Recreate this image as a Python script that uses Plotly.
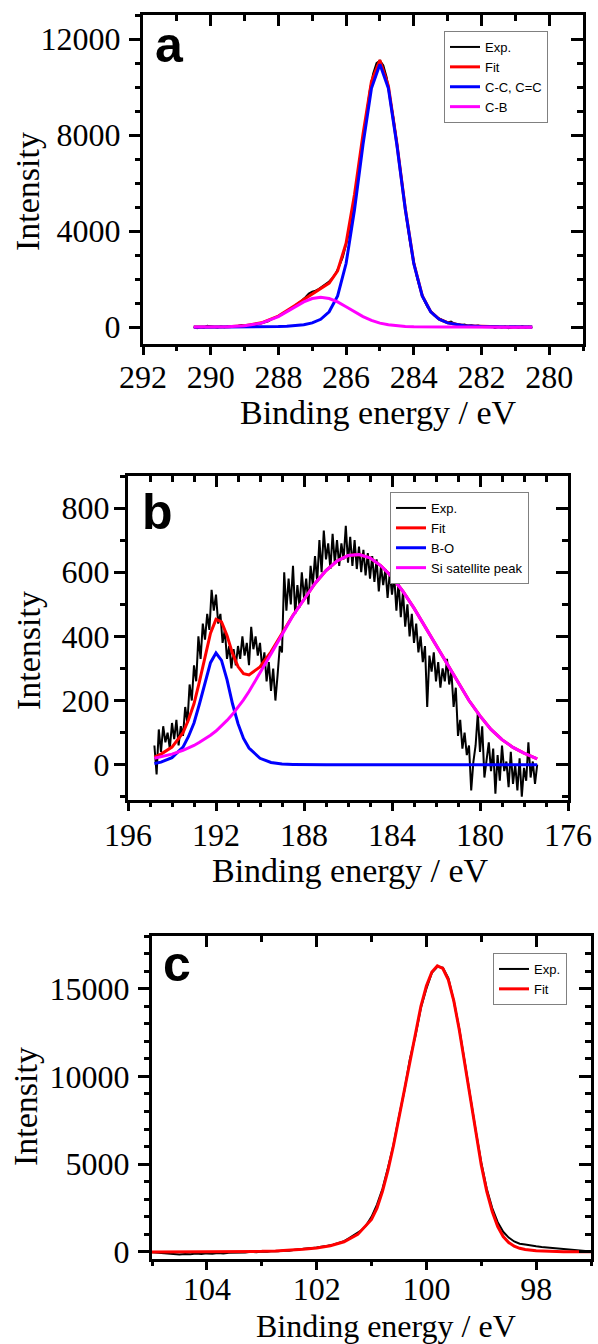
import numpy as np
import plotly.graph_objects as go

# ---------------- panel a : C 1s ----------------
a_fit_energy = [290.5, 290.0, 289.5, 289.0, 288.5, 288.0, 287.75, 287.5, 287.25, 287.0,
                286.75, 286.5, 286.25, 286.0, 285.75, 285.5, 285.25, 285.0, 284.75, 284.5,
                284.25, 284.0, 283.75, 283.5, 283.25, 283.0, 282.5, 282.0, 281.5, 281.0, 280.5]
a_fit = [5, 10, 23, 64, 182, 465, 678, 910, 1150, 1375,
         1580, 1835, 2350, 3500, 5540, 8040, 10235, 11120, 10050, 7658,
         4933, 2670, 1312, 649, 337, 186, 64, 28, 14, 7, 4]
a_cc = [0, 1, 3, 6, 12, 25, 38, 60, 100, 180,
        330, 640, 1300, 2650, 4900, 7600, 9950, 10950, 9950, 7600,
        4900, 2650, 1300, 640, 330, 180, 60, 25, 12, 6, 3]
a_cb = [5, 9, 20, 58, 170, 440, 640, 850, 1050, 1195,
        1250, 1195, 1050, 850, 640, 440, 285, 170, 100, 58,
        33, 20, 12, 9, 7, 6, 4, 3, 2, 1, 1]
a_exp_energy = np.round(np.linspace(290.5, 280.5, 101), 2)
a_exp = [20, -40, 10, -20, 60, 40, 10, -10, 30, 0,
         20, 40, 10, 50, 90, 60, 30, 80, 60, 120,
         150, 210, 240, 330, 390, 460, 520, 620, 690, 800,
         900, 1000, 1120, 1250, 1400, 1480, 1520, 1600, 1700, 1800,
         1900, 2050, 2250, 2550, 2900, 3450, 4000, 4800, 5850, 6900,
         7950, 8950, 9850, 10550, 11000, 11100, 10900, 10400, 9600, 8700,
         7700, 6550, 5500, 4400, 3450, 2700, 2050, 1550, 1150, 850,
         650, 500, 400, 330, 250, 200, 230, 150, 120, 90,
         110, 60, 80, 40, 70, 30, 50, 10, 40, -30,
         20, -10, 30, -40, 0, 20, -20, 40, -10, 20, -30]

# ---------------- panel b : B 1s ----------------
b_fit_energy = [194.8, 194.5, 194.0, 193.5, 193.25, 193.0, 192.75, 192.5, 192.25, 192.0,
                191.75, 191.5, 191.25, 191.0, 190.75, 190.5, 190.0, 189.5, 189.0, 188.5,
                188.0, 187.5, 187.0, 186.5, 186.0, 185.5, 185.0, 184.5, 184.0, 183.5,
                183.0, 182.5, 182.0, 181.5, 181.0, 180.5, 180.0, 179.5, 179.0, 178.5,
                178.0, 177.4]
b_fit = [24, 33, 55, 100, 140, 190, 260, 338, 410, 453,
         445, 403, 347, 306, 284, 280, 305, 352, 407, 466,
         515, 565, 605, 635, 652, 655, 645, 620, 585, 540,
         488, 430, 372, 312, 255, 200, 152, 110, 78, 54,
         36, 18]
b_bo = [4, 8, 22, 55, 88, 130, 190, 258, 318, 348,
        325, 265, 190, 128, 82, 52, 20, 7, 2, 1,
        0, 0, 0, 0, 0, 0, 0, 0, 0, 0,
        0, 0, 0, 0, 0, 0, 0, 0, 0, 0,
        0, 0]
b_si = [20, 25, 33, 45, 52, 60, 70, 80, 92, 105,
        120, 138, 157, 178, 202, 228, 285, 345, 405, 465,
        515, 565, 605, 635, 652, 655, 645, 620, 585, 540,
        488, 430, 372, 312, 255, 200, 152, 110, 78, 54,
        36, 18]
b_exp_energy = np.round(np.linspace(194.8, 177.4, 175), 2)
b_exp = [60, -30, 110, 40, 120, 70, 100, 50, 130, 80,
         140, 60, 120, 90, 180, 130, 250, 200, 310, 260,
         400, 330, 440, 390, 470, 420, 545, 480, 530, 440,
         470, 380, 420, 330, 370, 300, 360, 310, 370, 330,
         400, 340, 380, 310, 430, 360, 400, 340, 380, 300,
         350, 260, 320, 230, 300, 200, 280, 370, 350, 600,
         480, 580, 500, 620, 470, 560, 490, 600, 520, 580,
         500, 620, 560, 650, 570, 700, 600, 730, 640, 690,
         610, 720, 630, 700, 620, 690, 640, 745, 630, 710,
         620, 700, 610, 680, 600, 670, 590, 660, 580, 650,
         570, 640, 540, 620, 560, 610, 520, 600, 530, 590,
         480, 570, 460, 540, 430, 500, 400, 470, 380, 440,
         350, 400, 320, 370, 180, 340, 290, 350, 260, 320,
         240, 300, 260, 330, 250, 290, 180, 240, 90, 140,
         50, 100, 30, 60, -80, 10, 60, 160, 40, 120,
         -40, 20, 70, -20, 50, -90, 30, -50, 60, -20,
         10, -70, 40, -60, 0, -80, 20, -100, -10, -50,
         70, -40, 10, -60, 0]

# ---------------- panel c : Si 2p ----------------
c_fit_energy = [105.0, 104.5, 104.0, 103.5, 103.0, 102.75, 102.5, 102.25, 102.0, 101.75,
                101.5, 101.25, 101.0, 100.9, 100.8, 100.7, 100.6, 100.5, 100.4, 100.3,
                100.2, 100.1, 100.0, 99.9, 99.8, 99.7, 99.6, 99.5, 99.4, 99.3,
                99.2, 99.1, 99.0, 98.9, 98.8, 98.7, 98.6, 98.5, 98.4, 98.3,
                98.2, 98.0, 97.75, 97.5, 97.0]
c_fit = [0, 0, 5, 15, 35, 60, 95, 150, 230, 360,
         580, 1000, 1850, 2500, 3450, 4650, 6050, 7650, 9300, 11000,
         12600, 14000, 15150, 15950, 16300, 16150, 15500, 14300, 12650, 10700,
         8650, 6700, 4950, 3450, 2300, 1450, 880, 540, 330, 210,
         140, 70, 35, 20, 8]
c_exp_energy = np.round(np.linspace(105.0, 97.0, 81), 2)
c_exp = [-20, -40, -60, -120, -100, -140, -110, -130, -90, -120,
         -80, -100, -60, -80, -40, -50, -20, -30, 10, -10,
         30, 10, 50, 40, 90, 70, 130, 150, 190, 220,
         260, 290, 360, 420, 520, 620, 800, 1000, 1200, 1500,
         2000, 2700, 3600, 4800, 6100, 7700, 9200, 11000, 12300, 13900,
         15000, 15900, 16250, 16200, 15600, 14300, 12700, 10800, 8800, 6900,
         5100, 3600, 2500, 1700, 1150, 820, 600, 470, 420, 350,
         320, 280, 250, 200, 180, 150, 110, 90, 70, 40, 30]

W, H = 598, 1344
SERIF = "Liberation Serif"
SANS = "Liberation Sans"
BLACK, RED, BLUE, MAG = "#000000", "#ff0000", "#0000ff", "#ff00ff"

panels = [
    dict(key="a", xr=[292, 279], yr=[-700, 13000], xd=2, x0=280, yd=4000, ymin=1000,
         px=(143, 583), py=(15, 344), xs_off=-5, ys_off=2,
         series=[("Exp.", a_exp_energy, a_exp, BLACK, 2),
                 ("Fit", a_fit_energy, a_fit, RED, 3),
                 ("C-C, C=C", a_fit_energy, a_cc, BLUE, 3),
                 ("C-B", a_fit_energy, a_cb, MAG, 3)],
         leg=(444, 31), title_x=378, title_top=392, title_size=34, ylab=(28, 192)),
    dict(key="b", xr=[196, 176], yr=[-110, 900], xd=4, x0=176, yd=200, ymin=100,
         px=(128, 568), py=(476, 800), xs_off=-3, ys_off=-2,
         series=[("Exp.", b_exp_energy, b_exp, BLACK, 2),
                 ("Fit", b_fit_energy, b_fit, RED, 3),
                 ("B-O", b_fit_energy, b_bo, BLUE, 3),
                 ("Si satellite peak", b_fit_energy, b_si, MAG, 3)],
         leg=(390, 492), title_x=350, title_top=850, title_size=34, ylab=(28, 651)),
    dict(key="c", xr=[105, 97], yr=[-400, 18000], xd=2, x0=98, yd=5000, ymin=1000,
         px=(152, 591), py=(936, 1259), xs_off=-8, ys_off=2,
         series=[("Exp.", c_exp_energy, c_exp, BLACK, 2),
                 ("Fit", c_fit_energy, c_fit, RED, 3)],
         leg=(493, 953), title_x=386, title_top=1306, title_size=32, ylab=(25, 1107)),
]

fig = go.Figure()
layout = dict(width=W, height=H, margin=dict(l=0, r=0, t=0, b=0, pad=0),
              paper_bgcolor="white", plot_bgcolor="white", showlegend=True,
              annotations=[])

def fx(px):
    return px / W

def fy(py):
    return 1 - py / H

letters_pos = {"a": (153, 15), "b": (140, 482), "c": (161, 934)}

for i, p in enumerate(panels):
    n = i + 1
    m = i + 4
    xs = "" if n == 1 else str(n)
    xname, yname = "x" + xs, "y" + xs
    legname = "legend" if n == 1 else "legend" + str(n)
    for name, xv, yv, col, lw in p["series"]:
        fig.add_trace(go.Scatter(x=xv, y=yv, mode="lines", name=name,
                                 line=dict(color=col, width=lw),
                                 xaxis=xname, yaxis=yname, legend=legname))
    # dummy trace for the mirrored (inside-tick) top/right axes
    fig.add_trace(go.Scatter(x=[None], y=[None], xaxis="x" + str(m), yaxis="y" + str(m),
                             showlegend=False, hoverinfo="skip"))
    xdom = [fx(p["px"][0]), fx(p["px"][1])]
    ydom = [fy(p["py"][1]), fy(p["py"][0])]
    common = dict(showline=True, linecolor="black", linewidth=3, showgrid=False,
                  zeroline=False, tickcolor="black", tickwidth=2.5, automargin=False,
                  tickformat="d",
                  tickfont=dict(family=SERIF, size=32, color="black"))
    layout["xaxis" + xs] = dict(common, domain=xdom, range=p["xr"], anchor=yname,
                                 tick0=p["x0"], dtick=p["xd"], ticks="outside", ticklen=8,
                                 ticklabelstandoff=p["xs_off"],
                                 minor=dict(dtick=1, tick0=p["x0"], ticks="outside", ticklen=4,
                                            tickwidth=2.5, tickcolor="black"))
    layout["yaxis" + xs] = dict(common, domain=ydom, range=p["yr"], anchor=xname,
                                 tick0=0, dtick=p["yd"], ticks="outside", ticklen=11,
                                 ticklabelstandoff=p["ys_off"],
                                 minor=dict(dtick=p["ymin"], tick0=0, ticks="outside", ticklen=5,
                                            tickwidth=2.5, tickcolor="black"))
    layout["xaxis" + str(m)] = dict(common, domain=xdom, range=p["xr"], anchor=yname,
                                    overlaying=xname, side="top", showticklabels=False,
                                    tick0=p["x0"], dtick=p["xd"], ticks="inside", ticklen=11,
                                    minor=dict(dtick=1, tick0=p["x0"], ticks="inside", ticklen=6,
                                               tickwidth=2.5, tickcolor="black"))
    layout["yaxis" + str(m)] = dict(common, domain=ydom, range=p["yr"], anchor=xname,
                                    overlaying=yname, side="right", showticklabels=False,
                                    tick0=0, dtick=p["yd"], ticks="inside", ticklen=12,
                                    minor=dict(dtick=p["ymin"], tick0=0, ticks="inside", ticklen=6,
                                               tickwidth=2.5, tickcolor="black"))
    layout[legname] = dict(x=fx(p["leg"][0]), y=fy(p["leg"][1]), xanchor="left", yanchor="top",
                           bgcolor="white", bordercolor="#808080", borderwidth=1,
                           font=dict(family=SANS, size=13, color="black"),
                           tracegroupgap=0, itemwidth=30)
    lx, ly = letters_pos[p["key"]]
    layout["annotations"].append(dict(
        text="<b>" + p["key"] + "</b>", xref="paper", yref="paper",
        x=fx(lx), y=fy(ly), xanchor="left", yanchor="top", showarrow=False,
        font=dict(family=SANS, size=50, color="black")))
    layout["annotations"].append(dict(
        text="Binding energy / eV", xref="paper", yref="paper",
        x=fx(p["title_x"]), y=fy(p["title_top"]), xanchor="center", yanchor="top",
        showarrow=False, font=dict(family=SERIF, size=p["title_size"], color="black")))
    layout["annotations"].append(dict(
        text="Intensity", xref="paper", yref="paper", textangle=-90,
        x=fx(p["ylab"][0]), y=fy(p["ylab"][1]), xanchor="center", yanchor="middle",
        showarrow=False, font=dict(family=SERIF, size=34, color="black")))

fig.update_layout(**layout)
fig.write_html("out.html", config={"responsive": False, "displayModeBar": False},
               post_script="document.body.style.margin='0px';document.body.style.overflow='hidden';")
